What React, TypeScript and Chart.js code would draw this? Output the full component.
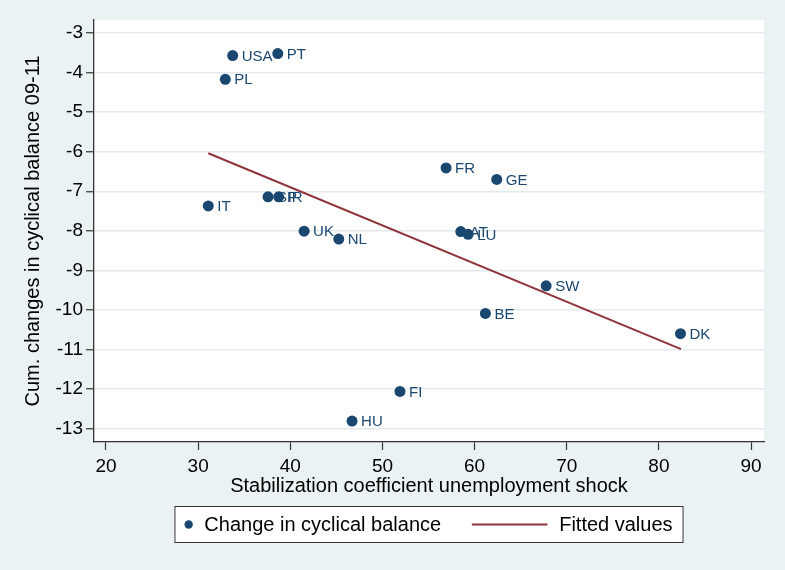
import { useEffect, useRef } from 'react';
import { Chart, registerables } from 'chart.js';

Chart.register(...registerables);

const countries = ['USA', 'PT', 'PL', 'IT', 'SP', 'IR', 'UK', 'NL', 'FR', 'GE', 'AT', 'LU', 'SW', 'BE', 'DK', 'FI', 'HU'];
const stabilization = [33.75, 38.64, 32.95, 31.1, 37.58, 38.74, 41.5, 45.26, 56.9, 62.4, 58.5, 59.3, 67.76, 61.17, 82.34, 51.9, 46.7];
const cyclicalChange = [-3.57, -3.52, -4.17, -7.37, -7.14, -7.14, -8.01, -8.21, -6.41, -6.7, -8.02, -8.09, -9.39, -10.09, -10.6, -12.06, -12.81];
const fittedX = [31.1, 82.4];
const fittedY = [-6.04, -10.99];
const xTicks = [20, 30, 40, 50, 60, 70, 80, 90];
const yTicks = [-3, -4, -5, -6, -7, -8, -9, -10, -11, -12, -13];

const FONT = "'Liberation Sans', Arial, Helvetica, sans-serif";
const NAVY = '#1a476f';
const MAROON = '#90353b';
const BG = '#eaf2f3';
const AXIS = '#333333';

const plotBg = {
  id: 'plotBg',
  beforeDraw(chart: any) {
    const { ctx, chartArea: a } = chart;
    ctx.save();
    ctx.fillStyle = BG;
    ctx.fillRect(0, 0, chart.width, chart.height);
    ctx.fillStyle = '#ffffff';
    ctx.fillRect(a.left, a.top, a.right - a.left, a.bottom - a.top);
    ctx.restore();
  },
};

const pointLabels = {
  id: 'pointLabels',
  afterDatasetsDraw(chart: any) {
    const { ctx } = chart;
    const meta = chart.getDatasetMeta(0);
    ctx.save();
    ctx.font = `15px ${FONT}`;
    ctx.fillStyle = NAVY;
    ctx.textAlign = 'left';
    ctx.textBaseline = 'middle';
    meta.data.forEach((el: any, i: number) => {
      ctx.fillText(countries[i], el.x + 9, el.y + 1);
    });
    ctx.restore();
  },
};

const legendBox = {
  id: 'legendBox',
  afterDraw(chart: any) {
    const { ctx, chartArea: a } = chart;
    const ds = chart.data.datasets;
    ctx.save();
    ctx.font = `20px ${FONT}`;
    const t1 = ds[0].label as string;
    const t2 = ds[1].label as string;
    const w1 = ctx.measureText(t1).width;
    const w2 = ctx.measureText(t2).width;
    const padL = 10, padR = 11, dot = 8.4, g1 = 11.5, g2 = 30.7, lineLen = 75.6, g3 = 11.7;
    const w = padL + dot + g1 + w1 + g2 + lineLen + g3 + w2 + padR;
    const cx = (a.left + a.right) / 2;
    const left = cx - w / 2;
    const top = 506;
    const h = 37;
    const cy = top + h / 2;
    ctx.fillStyle = '#ffffff';
    ctx.fillRect(left, top, w, h);
    ctx.strokeStyle = AXIS;
    ctx.lineWidth = 1;
    ctx.strokeRect(left + 0.5, top + 0.5, w - 1, h - 1);
    let x = left + padL;
    ctx.fillStyle = NAVY;
    ctx.beginPath();
    ctx.arc(x + dot / 2, cy, dot / 2, 0, Math.PI * 2);
    ctx.fill();
    x += dot + g1;
    ctx.fillStyle = '#000000';
    ctx.textBaseline = 'middle';
    ctx.textAlign = 'left';
    ctx.fillText(t1, x, cy + 1);
    x += w1 + g2;
    ctx.strokeStyle = MAROON;
    ctx.lineWidth = 2;
    ctx.beginPath();
    ctx.moveTo(x, cy);
    ctx.lineTo(x + lineLen, cy);
    ctx.stroke();
    x += lineLen + g3;
    ctx.fillStyle = '#000000';
    ctx.fillText(t2, x, cy + 1);
    ctx.restore();
  },
};

export default function App() {
  const ref = useRef<HTMLCanvasElement | null>(null);

  useEffect(() => {
    if (!ref.current) return;
    const chart = new Chart(ref.current, {
      type: 'scatter',
      data: {
        datasets: [
          {
            label: 'Change in cyclical balance',
            data: stabilization.map((x, i) => ({ x, y: cyclicalChange[i] })),
            backgroundColor: NAVY,
            borderColor: NAVY,
            borderWidth: 0,
            pointRadius: 5.5,
            pointHoverRadius: 5.5,
            order: 2,
          },
          {
            type: 'line',
            label: 'Fitted values',
            data: fittedX.map((x, i) => ({ x, y: fittedY[i] })),
            borderColor: MAROON,
            backgroundColor: MAROON,
            borderWidth: 2,
            pointRadius: 0,
            fill: false,
            tension: 0,
            order: 1,
          } as any,
        ],
      },
      options: {
        responsive: false,
        animation: false,
        events: [],
        layout: { padding: { left: 21, top: 20, right: 21, bottom: 72 } },
        plugins: {
          legend: { display: false },
          tooltip: { enabled: false },
        },
        scales: {
          x: {
            type: 'linear',
            min: 18.7,
            max: 91.4,
            afterBuildTicks: (s: any) => {
              s.ticks = xTicks.map((v) => ({ value: v }));
            },
            afterFit: (s: any) => {
              s.height = 56;
            },
            grid: {
              drawOnChartArea: false,
              drawTicks: true,
              tickLength: 8,
              tickColor: AXIS,
              tickWidth: 1.2,
            },
            border: { display: true, color: AXIS, width: 1.3 },
            ticks: {
              autoSkip: false,
              maxRotation: 0,
              padding: 5,
              color: '#000000',
              font: { family: FONT, size: 19 },
            },
            title: {
              display: true,
              text: 'Stabilization coefficient unemployment shock',
              color: '#000000',
              font: { family: FONT, size: 20 },
              padding: { top: 0, bottom: 0 },
            },
          },
          y: {
            type: 'linear',
            min: -13.34,
            max: -2.67,
            afterBuildTicks: (s: any) => {
              s.ticks = yTicks.map((v) => ({ value: v }));
            },
            afterFit: (s: any) => {
              s.width = 73;
            },
            grid: {
              drawOnChartArea: true,
              color: '#e2eaec',
              lineWidth: 1.5,
              drawTicks: true,
              tickLength: 8,
              tickColor: AXIS,
              tickWidth: 1.2,
            },
            border: { display: true, color: AXIS, width: 1.3 },
            ticks: {
              autoSkip: false,
              padding: 3,
              color: '#000000',
              font: { family: FONT, size: 19 },
            },
            title: {
              display: true,
              text: 'Cum. changes in cyclical balance 09-11',
              color: '#000000',
              font: { family: FONT, size: 20 },
              padding: { top: 0, bottom: 0 },
            },
          },
        },
      },
      plugins: [plotBg, pointLabels, legendBox],
    });
    return () => chart.destroy();
  }, []);

  return (
    <div style={{ position: 'absolute', left: 0, top: 0, width: 785, height: 570, background: BG }}>
      <canvas ref={ref} width={785} height={570} style={{ display: 'block', width: 785, height: 570 }} />
    </div>
  );
}
